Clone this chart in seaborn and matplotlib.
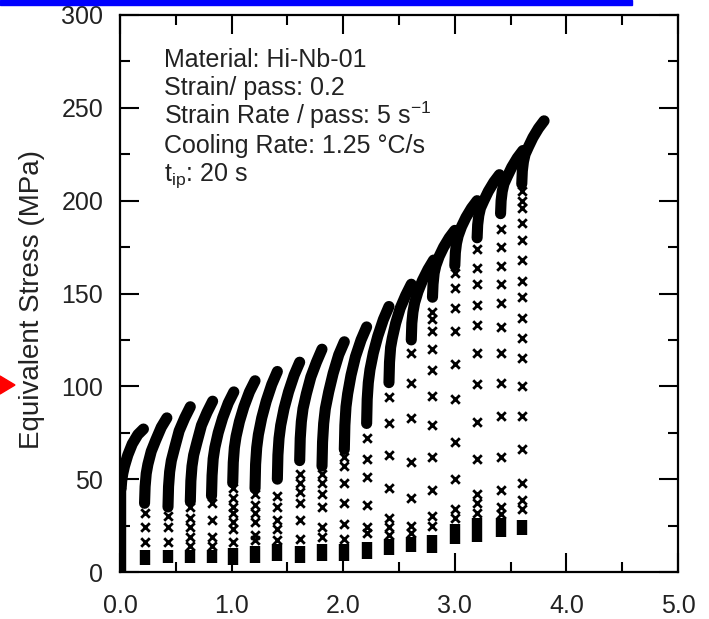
import numpy as np
import pandas as pd
import matplotlib
matplotlib.use("Agg")
import matplotlib.pyplot as plt
import seaborn as sns
from matplotlib.patches import Rectangle, Polygon
from matplotlib.ticker import MultipleLocator, FormatStrFormatter

# ---------------- data ----------------
# strain at which each pass starts (19 passes of 0.2 strain)
pass_start = [0.01, 0.22, 0.43, 0.63, 0.82, 1.01, 1.21, 1.41, 1.61, 1.81,
              2.01, 2.21, 2.41, 2.61, 2.80, 3.00, 3.20, 3.41, 3.60]

# strain offsets within a pass where the flow curve was read
strain_offset = [0.0, 0.005, 0.015, 0.03, 0.06, 0.10, 0.15, 0.20]

# flow stress (MPa) read at those offsets, one list per pass
flow_stress = [
    [45, 49, 53, 57, 63, 69, 74, 77],
    [37, 46, 53, 58, 65, 71, 78, 83],
    [35, 46, 54, 60, 67, 76, 83, 89],
    [38, 49, 57, 63, 70, 79, 86, 92],
    [41, 52, 61, 67, 75, 83, 91, 97],
    [48, 59, 67, 73, 81, 89, 97, 103],
    [45, 58, 67, 74, 83, 92, 101, 108],
    [50, 63, 72, 79, 88, 97, 106, 113],
    [60, 72, 81, 88, 96, 105, 113, 120],
    [57, 70, 80, 88, 97, 107, 117, 124],
    [66, 79, 89, 96, 106, 116, 125, 132],
    [80, 93, 102, 109, 118, 127, 136, 143],
    [102, 113, 121, 126, 134, 142, 149, 155],
    [125, 134, 140, 145, 151, 157, 163, 168],
    [148, 155, 161, 165, 170, 175, 180, 184],
    [165, 172, 177, 181, 186, 191, 196, 200],
    [180, 187, 192, 196, 200, 205, 210, 214],
    [193, 200, 205, 209, 213, 218, 223, 227],
    [209, 216, 221, 225, 229, 234, 239, 243],
]

# sparse loading points (MPa) at the start of passes 2..19
loading_stress = [
    [32, 24, 16],
    [30, 24, 16],
    [35, 29, 24, 19, 14],
    [37, 28, 19, 14],
    [45, 40, 35, 32, 27, 23, 16],
    [42, 36, 32, 27, 20, 17],
    [41, 35, 28, 23, 17],
    [53, 48, 43, 37, 28, 18],
    [53, 48, 42, 35, 24, 19],
    [62, 57, 48, 37, 26, 18],
    [72, 61, 51, 36, 24, 21],
    [94, 80, 63, 45, 29, 24, 20],
    [118, 102, 83, 59, 40, 25, 21],
    [140, 136, 130, 120, 109, 95, 79, 62, 44, 30, 25],
    [161, 153, 142, 130, 112, 93, 70, 50, 34, 29],
    [174, 164, 155, 144, 133, 118, 101, 81, 61, 42, 37, 32],
    [185, 175, 165, 155, 145, 132, 118, 102, 84, 62, 44, 35, 31],
    [205, 200, 196, 188, 179, 168, 157, 148, 137, 126, 115, 100, 84, 66, 48, 39, 34],
]

# dense interpass block at the bottom of each column (low, high), MPa
base_low = [0, 4, 5, 5, 5, 4, 5, 6, 5, 6, 6, 7, 9, 11, 10, 15, 16, 19, 20]
base_high = [45, 12, 12, 12, 12, 13, 14, 15, 14, 15, 15, 16, 18, 19, 20, 26, 29, 29, 28]

info_lines = [
    "Material: Hi-Nb-01",
    "Strain/ pass: 0.2",
    "Strain Rate / pass: 5 s$^{-1}$",
    "Cooling Rate: 1.25 \u00b0C/s",
    "t$_{\\mathrm{ip}}$: 20 s",
]

# ---------------- tables ----------------
curve_rows = []
for i, s0 in enumerate(pass_start):
    for off, st in zip(strain_offset, flow_stress[i]):
        curve_rows.append({"pass": i, "strain": s0 + off, "stress": st})
df_curve = pd.DataFrame(curve_rows)

load_rows = []
for i, vals in enumerate(loading_stress, start=1):
    for v in vals:
        load_rows.append({"pass": i, "strain": pass_start[i], "stress": v})
df_load = pd.DataFrame(load_rows)

base_rows = []
for i, s0 in enumerate(pass_start):
    base_rows.append({"pass": i, "strain": s0, "stress": base_low[i]})
    base_rows.append({"pass": i, "strain": s0, "stress": base_high[i]})
df_base = pd.DataFrame(base_rows)

# ---------------- style ----------------
sns.set_theme(style="white")
plt.rcParams["font.family"] = ["Liberation Sans", "DejaVu Sans"]
plt.rcParams["mathtext.fontset"] = "custom"
plt.rcParams["mathtext.rm"] = "Liberation Sans"
plt.rcParams["mathtext.it"] = "Liberation Sans:italic"
plt.rcParams["mathtext.bf"] = "Liberation Sans:bold"

W, H = 709, 619
fig = plt.figure(figsize=(W / 100, H / 100), dpi=100)
ax = fig.add_axes([120 / W, 1 - 572 / H, (678 - 120) / W, (572 - 15) / H])

sns.lineplot(data=df_curve, x="strain", y="stress", units="pass", estimator=None,
             sort=False, color="black", linewidth=8, legend=False, ax=ax,
             solid_capstyle="round", solid_joinstyle="round")
sns.lineplot(data=df_base, x="strain", y="stress", units="pass", estimator=None,
             sort=False, color="black", linewidth=7.5, legend=False, ax=ax,
             solid_capstyle="butt")
sns.scatterplot(data=df_load, x="strain", y="stress", marker="x", s=38,
                color="black", linewidth=2.0, legend=False, ax=ax)

ax.set_xlim(0, 5)
ax.set_ylim(0, 300)
ax.xaxis.set_major_locator(MultipleLocator(1.0))
ax.xaxis.set_minor_locator(MultipleLocator(0.5))
ax.yaxis.set_major_locator(MultipleLocator(50))
ax.yaxis.set_minor_locator(MultipleLocator(25))
ax.xaxis.set_major_formatter(FormatStrFormatter("%.1f"))

ax.tick_params(which="both", direction="in", top=True, right=True,
               bottom=True, left=True, color="black", width=1.5)
ax.tick_params(which="major", length=14, labelsize=18, labelcolor="#222222")
ax.tick_params(which="minor", length=7)
ax.tick_params(axis="x", which="major", pad=16)
ax.tick_params(axis="y", which="major", pad=12)

for sp in ax.spines.values():
    sp.set_visible(True)
    sp.set_color("black")
    sp.set_linewidth(1.6)

ax.set_xlabel("")
ax.set_ylabel("Equivalent Stress (MPa)", fontsize=20, color="#222222")
ax.yaxis.set_label_coords(-0.135, 0.49)

baselines_px = [67, 95.5, 124, 152.5, 181]
for line, yb in zip(info_lines, baselines_px):
    ax.text((164 - 120) / (678 - 120), (572 - yb) / (572 - 15), line,
            transform=ax.transAxes, fontsize=18, color="#222222",
            ha="left", va="baseline")

# slide decorations: blue bar at top and red arrow head at left
fig.patches.append(Rectangle((0, 1 - 5 / H), 632 / W, 5 / H,
                             transform=fig.transFigure, color="#0000ff", zorder=5))
fig.patches.append(Polygon([(0, 1 - 376 / H), (15 / W, 1 - 385 / H), (0, 1 - 394 / H)],
                           closed=True, transform=fig.transFigure,
                           color="#ff0000", zorder=5))

fig.savefig("out.png", dpi=100)
